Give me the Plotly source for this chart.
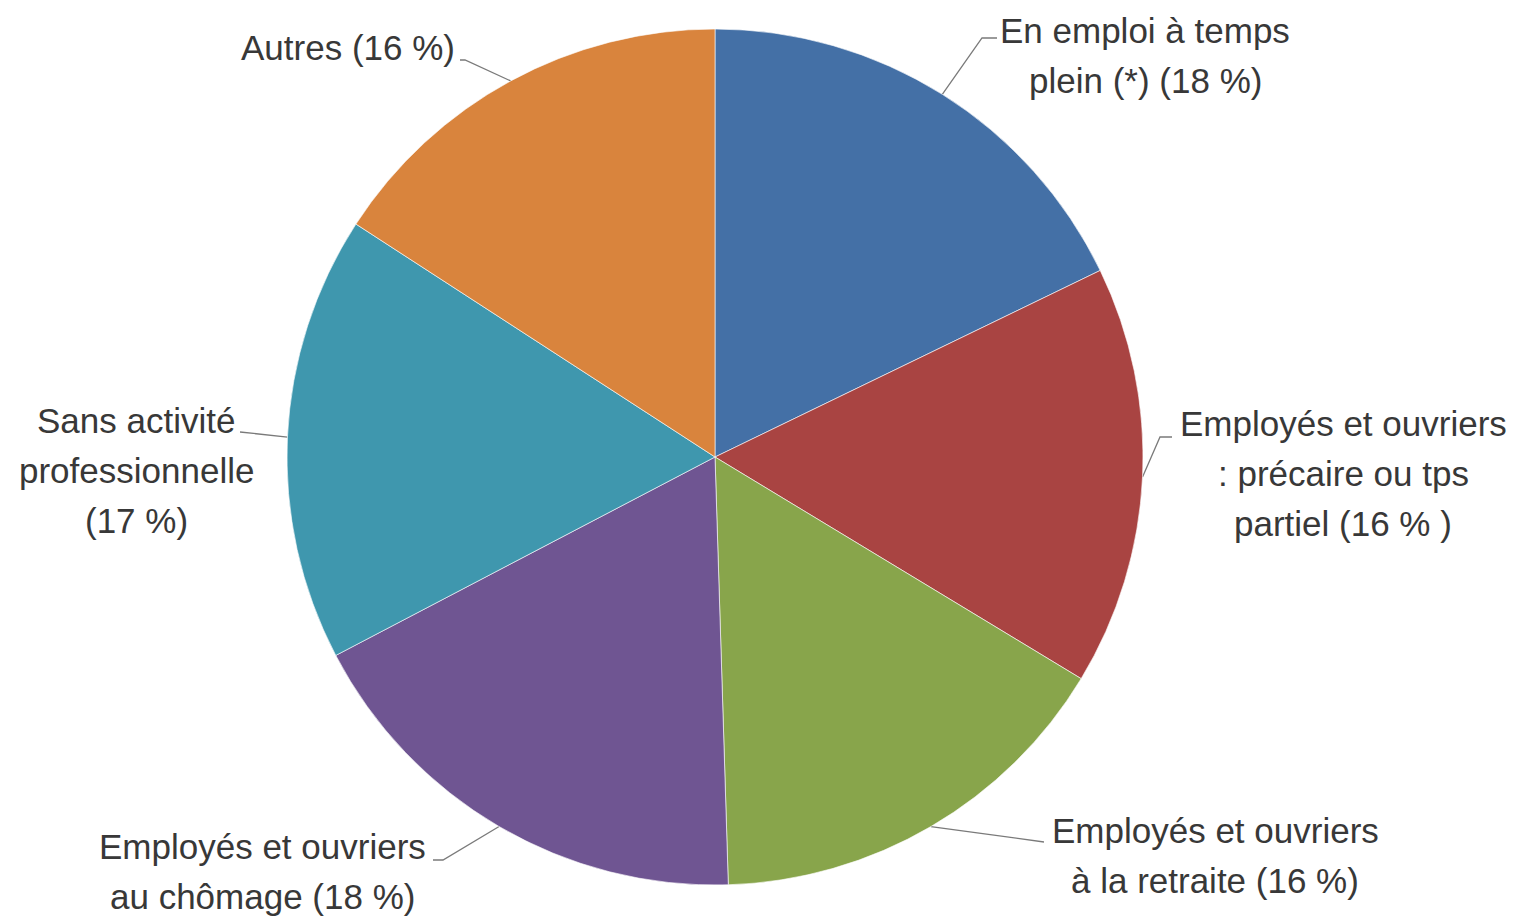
import math
import plotly.graph_objects as go

# ---- data ----
categories = [
    "En emploi à temps plein (*)",
    "Employés et ouvriers : précaire ou tps partiel",
    "Employés et ouvriers à la retraite",
    "Employés et ouvriers au chômage",
    "Sans activité professionnelle",
    "Autres",
]
values = [18, 16, 16, 18, 17, 16]
label_lines = [
    ["En emploi à temps", "plein (*) (18 %)"],
    ["Employés et ouvriers", ": précaire ou tps", "partiel (16 % )"],
    ["Employés et ouvriers", "à la retraite (16 %)"],
    ["Employés et ouvriers", "au chômage (18 %)"],
    ["Sans activité", "professionnelle", "(17 %)"],
    ["Autres (16 %)"],
]
colors = ["#4470A6", "#A94442", "#88A54B", "#6F5592", "#3F97AE", "#D9843D"]

# ---- layout constants (screen pixels) ----
OFF = 8  # default page body margin
W, H = 1519 - OFF, 916 - OFF
CX, CY, R = 715 - OFF, 457 - OFF, 428
text_pos = [(1145, 30), (1343, 423), (1215, 830), (262, 846), (136, 420), (348, 47)]
LINE_GAP = 50
elbows = [((982, 38), (997, 38)), ((1160, 437), (1172, 437)), ((1040, 842), (1044, 842)),
          ((443, 860), (433, 860)), ((245, 432), (240, 432)), ((465, 60), (460, 60))]

fig = go.Figure()

fig.add_trace(go.Pie(
    labels=categories, values=values, sort=False, direction="clockwise", rotation=0,
    marker=dict(colors=colors, line=dict(color="rgba(255,255,255,0.6)", width=1)),
    textinfo="none", hoverinfo="label+percent", showlegend=False,
    domain=dict(x=[(CX - R) / W, (CX + R) / W], y=[(H - CY - R) / H, (H - CY + R) / H]),
))

total = sum(values)
cum = 0
annotations = []
for i, v in enumerate(values):
    mid = (cum + v / 2) / total * 2 * math.pi
    cum += v
    ex = CX + R * math.sin(mid)
    ey = CY - R * math.cos(mid)
    (bx, by), (tx, ty) = elbows[i]
    fig.add_trace(go.Scatter(
        x=[ex, bx - OFF, tx - OFF], y=[ey, by - OFF, ty - OFF], mode="lines",
        line=dict(color="#7a7a7a", width=1.3), hoverinfo="skip", showlegend=False,
    ))
    x0, y0 = text_pos[i]
    for k, line in enumerate(label_lines[i]):
        annotations.append(dict(
            x=x0 - OFF, y=y0 - OFF + k * LINE_GAP, xref="x", yref="y", text=line,
            showarrow=False, xanchor="center", yanchor="middle",
            font=dict(family="Liberation Sans, Arial, sans-serif", size=35, color="#383838"),
        ))

fig.update_layout(
    width=W, height=H, margin=dict(l=0, r=0, t=0, b=0),
    paper_bgcolor="white", plot_bgcolor="rgba(0,0,0,0)",
    xaxis=dict(range=[0, W], visible=False, domain=[0, 1], fixedrange=True),
    yaxis=dict(range=[H, 0], visible=False, domain=[0, 1], fixedrange=True),
    annotations=annotations,
)

fig.write_html("out.html")
